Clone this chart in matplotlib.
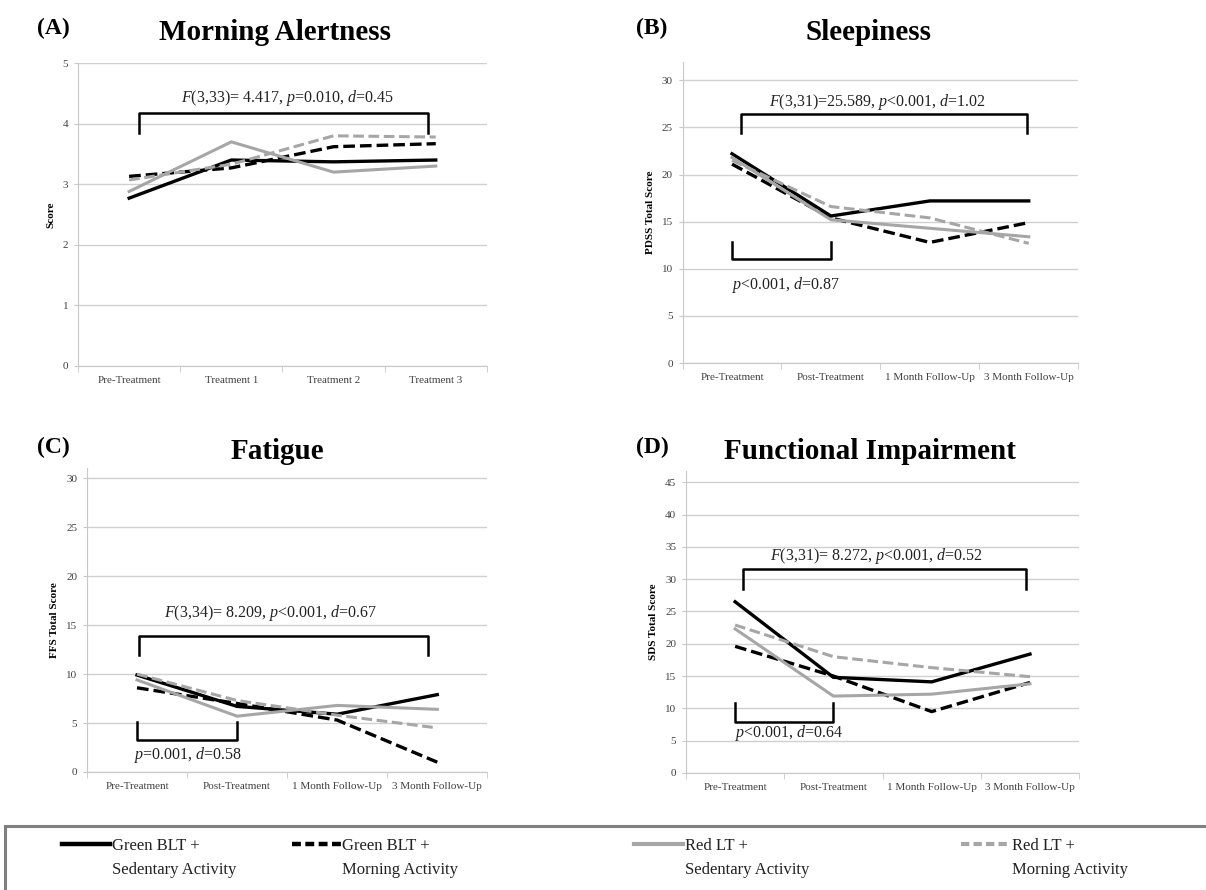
import matplotlib
matplotlib.use("Agg")
import matplotlib.pyplot as plt
from matplotlib.patches import Rectangle
from matplotlib.lines import Line2D

plt.rcParams["font.family"] = ["Liberation Serif", "DejaVu Serif"]
plt.rcParams["mathtext.fontset"] = "custom"
plt.rcParams["mathtext.rm"] = "Liberation Serif"
plt.rcParams["mathtext.it"] = "Liberation Serif:italic"

# ---- data ----
series_first = ["Green BLT +", "Green BLT +", "Red LT +", "Red LT +"]
series_second = ["Sedentary Activity", "Morning Activity", "Sedentary Activity", "Morning Activity"]

alert_cats = ["Pre-Treatment", "Treatment 1", "Treatment 2", "Treatment 3"]
follow_cats = ["Pre-Treatment", "Post-Treatment", "1 Month Follow-Up", "3 Month Follow-Up"]

alert_green_sed = [2.77, 3.40, 3.37, 3.40]
alert_green_morn = [3.13, 3.27, 3.62, 3.67]
alert_red_sed = [2.88, 3.70, 3.20, 3.30]
alert_red_morn = [3.07, 3.33, 3.80, 3.78]

sleep_green_sed = [22.2, 15.6, 17.2, 17.2]
sleep_green_morn = [21.1, 15.4, 12.8, 14.9]
sleep_red_sed = [21.8, 15.2, 14.3, 13.4]
sleep_red_morn = [21.5, 16.6, 15.4, 12.7]

fatigue_green_sed = [9.9, 6.7, 5.9, 7.9]
fatigue_green_morn = [8.6, 7.0, 5.3, 1.0]
fatigue_red_sed = [9.4, 5.7, 6.8, 6.4]
fatigue_red_morn = [10.0, 7.3, 5.8, 4.5]

func_green_sed = [26.5, 14.8, 14.1, 18.4]
func_green_morn = [19.6, 15.0, 9.5, 14.0]
func_red_sed = [22.3, 11.9, 12.2, 13.8]
func_red_morn = [22.9, 18.0, 16.3, 14.9]

# line styles for the four groups
styles = [dict(color="black", lw=2.4, ls="-"),
          dict(color="black", lw=2.4, ls=(0, (3.5, 1.5))),
          dict(color="#a6a6a6", lw=2.2, ls="-"),
          dict(color="#a6a6a6", lw=2.2, ls=(0, (3.5, 1.5)))]

fig = plt.figure(figsize=(12.06, 8.9), dpi=100)


def panel(rect, cats, series, ylim, yticks, ylabel, letter, title, title_pos,
          big, small=None):
    ax = fig.add_axes(rect)
    x = list(range(len(cats)))
    for vals, st in zip(series, styles):
        ax.plot(x, vals, **st, solid_joinstyle="miter", dash_capstyle="butt")
    ax.set_xlim(-0.5, len(cats) - 0.5)
    ax.set_ylim(*ylim)
    ax.set_yticks(yticks)
    ax.set_xticks(x)
    ax.set_xticklabels(cats)
    ax.set_xticks([i - 0.5 for i in range(len(cats) + 1)], minor=True)
    ax.tick_params(axis="x", which="major", length=0, pad=7, labelsize=8, labelcolor="#404040")
    ax.tick_params(axis="x", which="minor", length=4, color="#c8c8c8", direction="out")
    ax.tick_params(axis="y", length=3, color="#c8c8c8", labelsize=8, labelcolor="#404040", pad=4)
    ax.grid(axis="y", color="#d0d0d0", lw=1.0)
    ax.set_axisbelow(True)
    for s in ["top", "right"]:
        ax.spines[s].set_visible(False)
    for s in ["left", "bottom"]:
        ax.spines[s].set_color("#c8c8c8")
    ax.set_ylabel(ylabel, fontsize=8, fontweight="bold", labelpad=5)

    # overall bracket + stats text
    x0, x1, ytop, yleg, tx, ty, txt = big
    ax.plot([x0, x0, x1, x1], [yleg, ytop, ytop, yleg], color="black", lw=1.8)
    ax.text(tx, ty, txt, ha="center", va="center", fontsize=11.5, color="#222222")
    if small:
        x0, x1, ytop, ybot, tx, ty, txt = small
        ax.plot([x0, x0, x1, x1], [ytop, ybot, ybot, ytop], color="black", lw=1.8)
        ax.text(tx, ty, txt, ha="left", va="center", fontsize=11.5, color="#222222")

    fig.text(letter[0], letter[1], letter[2], fontsize=17, fontweight="bold",
             ha="left", va="center")
    fig.text(title_pos[0], title_pos[1], title, fontsize=21, fontweight="bold",
             ha="center", va="center")
    return ax


panel([0.0647, 0.589, 0.339, 0.340], alert_cats,
      [alert_green_sed, alert_green_morn, alert_red_sed, alert_red_morn],
      (0, 5), range(0, 6), "Score", (0.031, 0.968, "(A)"), "Morning Alertness",
      (0.228, 0.963),
      (0.1, 2.92, 4.18, 3.85, 1.55, 4.42, r"$F$(3,33)= 4.417, $p$=0.010, $d$=0.45"))

panel([0.566, 0.592, 0.328, 0.338], follow_cats,
      [sleep_green_sed, sleep_green_morn, sleep_red_sed, sleep_red_morn],
      (0, 31.9), range(0, 31, 5), "PDSS Total Score", (0.527, 0.968, "(B)"), "Sleepiness",
      (0.72, 0.963),
      (0.09, 2.98, 26.4, 24.4, 1.47, 27.7, r"$F$(3,31)=25.589, $p$<0.001, $d$=1.02"),
      (0.0, 1.0, 12.8, 11.0, 0.0, 8.3, r"$p$<0.001, $d$=0.87"))

panel([0.0721, 0.1326, 0.332, 0.341], follow_cats,
      [fatigue_green_sed, fatigue_green_morn, fatigue_red_sed, fatigue_red_morn],
      (0, 31.0), range(0, 31, 5), "FFS Total Score", (0.031, 0.497, "(C)"), "Fatigue",
      (0.23, 0.493),
      (0.02, 2.91, 13.85, 11.9, 1.33, 16.2, r"$F$(3,34)= 8.209, $p$<0.001, $d$=0.67"),
      (0.0, 1.0, 5.1, 3.25, -0.03, 1.7, r"$p$=0.001, $d$=0.58"))

panel([0.5688, 0.1315, 0.326, 0.339], follow_cats,
      [func_green_sed, func_green_morn, func_red_sed, func_red_morn],
      (0, 46.7), range(0, 46, 5), "SDS Total Score", (0.527, 0.497, "(D)"),
      "Functional Impairment", (0.721, 0.493),
      (0.08, 2.96, 31.6, 28.5, 1.44, 33.6, r"$F$(3,31)= 8.272, $p$<0.001, $d$=0.52"),
      (0.0, 1.0, 10.8, 7.9, 0.0, 6.2, r"$p$<0.001, $d$=0.64"))

# legend box across the bottom
fig.patches.append(Rectangle((0.004, -0.02), 1.0, 0.092, transform=fig.transFigure,
                             fill=False, ec="#7f7f7f", lw=2.2))
legend_x = [0.051, 0.242, 0.526, 0.797]
legends = []
for first, st, lx in zip(series_first, styles, legend_x):
    hst = {**st, "lw": st["lw"] + 0.8}
    if hst["ls"] != "-":
        hst["ls"] = (0, (2, 1))
    h = Line2D([], [], dash_capstyle="butt", **hst)
    leg = fig.legend([h], [first], loc="center left", bbox_to_anchor=(lx, 0.0495),
                     frameon=False, fontsize=12, handlelength=2.93, handletextpad=0.1,
                     borderpad=0, borderaxespad=0)
    leg.get_texts()[0].set_color("#222222")
    legends.append(leg)

# second line of each legend label, aligned under the first
fig.canvas.draw()
inv = fig.transFigure.inverted()
for leg, second in zip(legends, series_second):
    bb = leg.get_texts()[0].get_window_extent()
    x0 = inv.transform((bb.x0, bb.y0))[0]
    fig.text(x0, 0.022, second, fontsize=12, color="#222222", ha="left", va="center")

fig.savefig("out.png", dpi=100)
